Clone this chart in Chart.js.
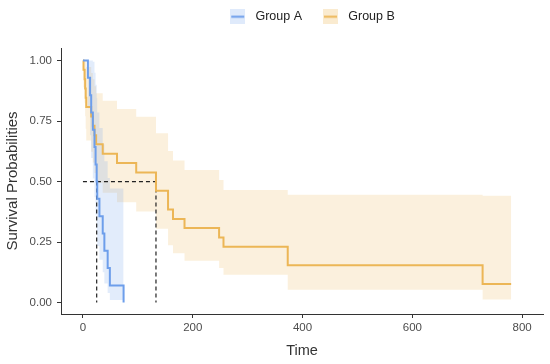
<!DOCTYPE html>
<html>
<head>
<meta charset="utf-8">
<script src="https://cdn.jsdelivr.net/npm/chart.js@4.4.1/dist/chart.umd.min.js"></script>
<style>
  body { margin: 0; background: #fff; }
  #wrap { width: 550px; height: 364px; }
</style>
</head>
<body>
<div id="wrap"><canvas id="chart" width="550" height="364"></canvas></div>
<script>
// Kaplan-Meier steps
const timeA  = [0, 9, 13, 15, 18, 21, 23, 25, 26, 30, 36, 39, 45, 49, 74];
const survA  = [1, 0.929, 0.857, 0.786, 0.714, 0.643, 0.571, 0.5, 0.429, 0.357, 0.286, 0.214, 0.143, 0.071, 0];
const upperA = [1, 1, 1, 1, 0.995, 0.95, 0.9, 0.844, 0.785, 0.721, 0.654, 0.584, 0.515, 0.472, 0.472];
const lowerA = [1, 0.803, 0.692, 0.598, 0.513, 0.435, 0.363, 0.296, 0.234, 0.177, 0.125, 0.079, 0.04, 0.011, 0.011];

const timeB  = [0, 1, 3, 4, 5, 6, 15, 18, 21, 24, 36, 62, 97, 133, 155, 164, 185, 248, 256, 373, 728, 780];
const survB  = [1, 0.962, 0.923, 0.885, 0.846, 0.808, 0.769, 0.731, 0.692, 0.654, 0.615, 0.577, 0.538, 0.462, 0.385, 0.346, 0.308, 0.269, 0.231, 0.154, 0.077, 0.077];
const upperB = [1, 1, 1, 1, 0.997, 0.974, 0.949, 0.923, 0.894, 0.865, 0.834, 0.8, 0.768, 0.7, 0.626, 0.587, 0.548, 0.507, 0.465, 0.446, 0.442, 0.442];
const lowerB = [1, 0.89, 0.826, 0.77, 0.718, 0.67, 0.623, 0.579, 0.536, 0.494, 0.454, 0.415, 0.377, 0.305, 0.237, 0.204, 0.173, 0.143, 0.115, 0.053, 0.013, 0.013];

const groupNames = ['Group A', 'Group B'];
const medianTimes = [25, 133];
const medianLevel = 0.5;

const xTicks = [0, 200, 400, 600, 800];
const yTicks = [0, 0.25, 0.5, 0.75, 1];

const blue = '#6d9eeb';
const orange = '#ecb656';
const blueBand = 'rgba(109,158,235,0.2)';
const orangeBand = 'rgba(236,182,86,0.2)';
const axisColor = '#333333';
const family = '"Liberation Sans", Arial, sans-serif';

function pts(xs, ys) {
  return xs.map((x, i) => ({ x: x, y: ys[i] }));
}

// little legend key: shaded square with the line through it
function keyIcon(line, fill) {
  const c = document.createElement('canvas');
  c.width = 15; c.height = 15;
  const g = c.getContext('2d');
  g.fillStyle = fill;
  g.fillRect(0, 0, 15, 15);
  g.strokeStyle = line;
  g.lineWidth = 2;
  g.beginPath();
  g.moveTo(1, 7.5);
  g.lineTo(14, 7.5);
  g.stroke();
  return c;
}

const curve = (label, xs, ys, color, fill) => ({
  label: label,
  data: pts(xs, ys),
  borderColor: color,
  backgroundColor: fill,
  borderWidth: 2,
  stepped: 'before',
  pointRadius: 0,
  pointStyle: keyIcon(color, fill),
  fill: false
});

const band = (xs, ys, fillTo, color) => ({
  label: 'band',
  data: pts(xs, ys),
  borderWidth: 0,
  borderColor: 'rgba(0,0,0,0)',
  backgroundColor: color,
  stepped: 'before',
  pointRadius: 0,
  fill: fillTo
});

const dashed = (data) => ({
  label: 'median',
  data: data,
  borderColor: '#222',
  borderWidth: 1.2,
  borderDash: [4, 3],
  pointRadius: 0,
  fill: false
});

const datasets = [
  curve(groupNames[0], timeA, survA, blue, 'rgba(109,158,235,0.22)'),
  curve(groupNames[1], timeB, survB, orange, 'rgba(236,182,86,0.28)'),
  dashed([{ x: 0, y: medianLevel }, { x: medianTimes[1], y: medianLevel }]),
  dashed([{ x: medianTimes[0], y: medianLevel }, { x: medianTimes[0], y: 0 }]),
  dashed([{ x: medianTimes[1], y: medianLevel }, { x: medianTimes[1], y: 0 }]),
  band(timeA, upperA, false, blueBand),
  band(timeA, lowerA, '-1', blueBand),
  band(timeB, upperB, false, orangeBand),
  band(timeB, lowerB, '-1', orangeBand)
];

// nudge the legend to where it sits in the original
const legendShift = {
  id: 'legendShift',
  afterLayout(chart) {
    const lg = chart.legend;
    lg.left += 39; lg.right += 39;
    lg.top -= 15; lg.bottom -= 15;
  }
};

new Chart(document.getElementById('chart'), {
  type: 'line',
  data: { datasets: datasets },
  plugins: [legendShift],
  options: {
    responsive: false,
    animation: false,
    layout: { padding: { top: 8.5, right: 7, bottom: 0, left: 0 } },
    plugins: {
      tooltip: { enabled: false },
      legend: {
        position: 'top',
        labels: {
          usePointStyle: true,
          pointStyleWidth: 23,
          padding: 17,
          color: '#222',
          font: { size: 12.5, family: family },
          filter: (item) => item.datasetIndex < 2
        }
      }
    },
    scales: {
      x: {
        type: 'linear',
        min: -40,
        max: 838,
        afterBuildTicks: (s) => { s.ticks = xTicks.map(v => ({ value: v })); },
        afterFit: (s) => { s.height = 50; },
        grid: { drawOnChartArea: false, tickLength: 4, color: axisColor },
        border: { color: axisColor, width: 1 },
        ticks: { color: '#4d4d4d', padding: 3, maxRotation: 0, font: { size: 11.5, family: family } },
        title: { display: true, text: 'Time', color: '#333', font: { size: 14.5, family: family }, padding: { top: 0, bottom: 4 } }
      },
      y: {
        min: -0.047,
        max: 1.052,
        afterBuildTicks: (s) => { s.ticks = yTicks.map(v => ({ value: v })); },
        afterFit: (s) => { s.width = 61; },
        grid: { drawOnChartArea: false, tickLength: 4, color: axisColor },
        border: { color: axisColor, width: 1 },
        ticks: { color: '#4d4d4d', padding: 5, font: { size: 11.5, family: family }, callback: (v) => v.toFixed(2) },
        title: { display: true, text: 'Survival Probabilities', color: '#333', font: { size: 15, family: family }, padding: { top: 4, bottom: 0 } }
      }
    }
  }
});
</script>
</body>
</html>
